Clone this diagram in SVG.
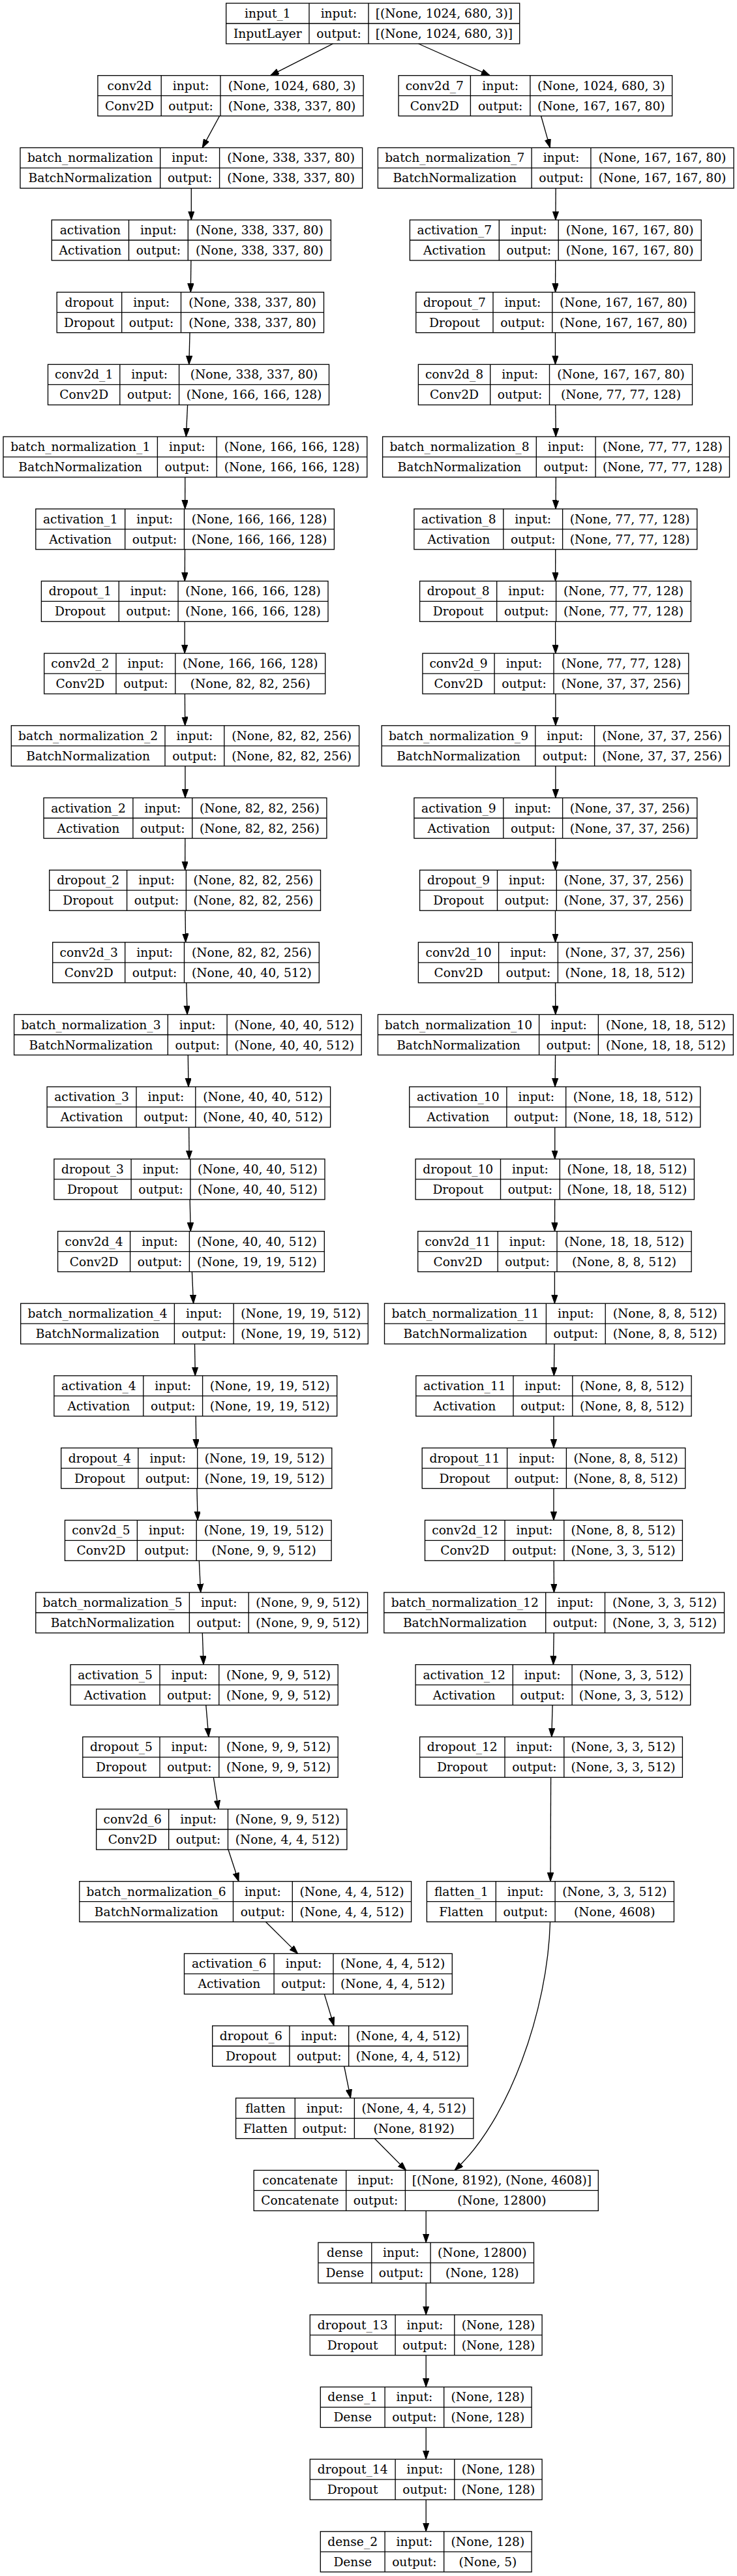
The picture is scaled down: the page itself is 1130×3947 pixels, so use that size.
<svg xmlns="http://www.w3.org/2000/svg" width="1130" height="3947" viewBox="0 0 1130 3947">
<defs>
<style>
.n rect{fill:#fff;stroke:#000;stroke-width:1.33}
.n path{fill:none;stroke:#000;stroke-width:1.33}
.n text{font-family:"DejaVu Serif","Liberation Serif",serif;font-size:18.67px;text-anchor:middle;fill:#000}
#edges path{fill:none;stroke:#000;stroke-width:1.33;marker-end:url(#arr)}
</style>
<marker id="arr" markerUnits="userSpaceOnUse" markerWidth="14" markerHeight="10" refX="13.3" refY="4.67" orient="auto" viewBox="0 0 14 10">
<path d="M0,0 L13.3,4.67 L0,9.33 Z" fill="#000" stroke="#000" stroke-width="1"/>
</marker>
</defs>
<rect width="1130" height="3947" fill="#fff"/>

<g id="edges">
<path d="M510.6,67 L414.6,115.7"/>
<path d="M641.5,67 L751.1,115.7"/>
<path d="M336.6,177.7 L310.2,226.4"/>
<path d="M293.3,288.4 L293.3,337"/>
<path d="M292.9,399 L292.3,447.7"/>
<path d="M291.05,509.7 L289.8,558.4"/>
<path d="M287.6,620.4 L285.3,669.1"/>
<path d="M283.8,731.1 L283.7,779.8"/>
<path d="M283.5,841.8 L283.3,890.4"/>
<path d="M283.2,952.4 L283.2,1001.1"/>
<path d="M283.4,1063.1 L283.7,1111.8"/>
<path d="M283.95,1173.8 L283.95,1222.5"/>
<path d="M283.85,1284.5 L283.7,1333.2"/>
<path d="M284,1395.2 L284.6,1443.8"/>
<path d="M285.8,1505.8 L287.1,1554.5"/>
<path d="M288.3,1616.5 L288.95,1665.2"/>
<path d="M289.65,1727.2 L290.15,1775.9"/>
<path d="M291.15,1837.9 L292.25,1886.6"/>
<path d="M294.4,1948.6 L296.6,1997.2"/>
<path d="M298.5,2059.2 L299.3,2107.9"/>
<path d="M300.2,2169.9 L300.85,2218.6"/>
<path d="M301.95,2280.6 L303.1,2329.3"/>
<path d="M305.3,2391.3 L307.7,2440"/>
<path d="M310.3,2502 L312.05,2550.6"/>
<path d="M315.8,2612.6 L319.9,2661.3"/>
<path d="M327.35,2723.3 L334.95,2772"/>
<path d="M350,2834 L366,2882.7"/>
<path d="M407.5,2944.7 L456.6,2993.4"/>
<path d="M497.3,3055.4 L512,3104"/>
<path d="M527.7,3166 L537.5,3214.7"/>
<path d="M574.4,3276.7 L622.6,3325.4"/>
<path d="M653.2,3387.4 L653.2,3436.1"/>
<path d="M653.2,3498.1 L653.2,3546.8"/>
<path d="M653.2,3608.8 L653.2,3657.4"/>
<path d="M653.2,3719.4 L653.2,3768.1"/>
<path d="M653.2,3830.1 L653.2,3878.8"/>
<path d="M829.6,177.7 L843.4,226.4"/>
<path d="M852.1,288.4 L851.9,337"/>
<path d="M851.7,399 L851.55,447.7"/>
<path d="M851.45,509.7 L851.45,558.4"/>
<path d="M851.75,620.4 L852.25,669.1"/>
<path d="M852.35,731.1 L852.05,779.8"/>
<path d="M851.75,841.8 L851.6,890.4"/>
<path d="M851.6,952.4 L851.75,1001.1"/>
<path d="M851.85,1063.1 L851.85,1111.8"/>
<path d="M851.85,1173.8 L851.85,1222.5"/>
<path d="M851.75,1284.5 L851.6,1333.2"/>
<path d="M851.5,1395.2 L851.5,1443.8"/>
<path d="M851.55,1505.8 L851.75,1554.5"/>
<path d="M851.55,1616.5 L851.05,1665.2"/>
<path d="M850.75,1727.2 L850.75,1775.9"/>
<path d="M850.65,1837.9 L850.5,1886.6"/>
<path d="M850.4,1948.6 L850.4,1997.2"/>
<path d="M850,2059.2 L849.35,2107.9"/>
<path d="M848.95,2169.9 L848.95,2218.6"/>
<path d="M848.95,2280.6 L848.95,2329.3"/>
<path d="M849.15,2391.3 L849.45,2440"/>
<path d="M849.15,2502 L848.4,2550.6"/>
<path d="M847.1,2612.6 L845.8,2661.3"/>
<path d="M844.6,2723.3 L844,2882.7"/>
<path d="M843.5,2944.7 C840,3080 780,3250 697,3325.4"/>
</g>

<g id="input_1" class="n" transform="translate(0 5)"><rect x="346.7" y="0" width="450" height="62"/><path d="M474,0v62M565,0v62M346.7,31H796.7"/><text x="410.35" y="22">input_1</text><text x="410.35" y="53">InputLayer</text><text x="519.5" y="22">input:</text><text x="519.5" y="53">output:</text><text x="680.85" y="22">[(None, 1024, 680, 3)]</text><text x="680.85" y="53">[(None, 1024, 680, 3)]</text></g>

<g id="conv2d" class="n" transform="translate(0 115.7)"><rect x="149.9" y="0" width="407.2" height="62"/><path d="M247.2,0v62M338,0v62M149.9,31H557.1"/><text x="198.55" y="22">conv2d</text><text x="198.55" y="53">Conv2D</text><text x="292.6" y="22">input:</text><text x="292.6" y="53">output:</text><text x="447.55" y="22">(None, 1024, 680, 3)</text><text x="447.55" y="53">(None, 338, 337, 80)</text></g>
<g id="conv2d_7" class="n" transform="translate(0 115.7)"><rect x="611.1" y="0" width="419.5" height="62"/><path d="M721.4,0v62M812.9,0v62M611.1,31H1030.6"/><text x="666.25" y="22">conv2d_7</text><text x="666.25" y="53">Conv2D</text><text x="767.15" y="22">input:</text><text x="767.15" y="53">output:</text><text x="921.75" y="22">(None, 1024, 680, 3)</text><text x="921.75" y="53">(None, 167, 167, 80)</text></g>

<g id="batch_normalization" class="n" transform="translate(0 226.4)"><rect x="31" y="0" width="524.6" height="62"/><path d="M245.7,0v62M336.6,0v62M31,31H555.6"/><text x="138.35" y="22">batch_normalization</text><text x="138.35" y="53">BatchNormalization</text><text x="291.15" y="22">input:</text><text x="291.15" y="53">output:</text><text x="446.1" y="22">(None, 338, 337, 80)</text><text x="446.1" y="53">(None, 338, 337, 80)</text></g>
<g id="batch_normalization_7" class="n" transform="translate(0 226.4)"><rect x="579.4" y="0" width="545.6" height="62"/><path d="M815.1,0v62M905.9,0v62M579.4,31H1125"/><text x="697.25" y="22">batch_normalization_7</text><text x="697.25" y="53">BatchNormalization</text><text x="860.5" y="22">input:</text><text x="860.5" y="53">output:</text><text x="1015.45" y="22">(None, 167, 167, 80)</text><text x="1015.45" y="53">(None, 167, 167, 80)</text></g>

<g id="activation" class="n" transform="translate(0 337)"><rect x="79.3" y="0" width="428.1" height="62"/><path d="M197.5,0v62M288.3,0v62M79.3,31H507.4"/><text x="138.4" y="22">activation</text><text x="138.4" y="53">Activation</text><text x="242.9" y="22">input:</text><text x="242.9" y="53">output:</text><text x="397.85" y="22">(None, 338, 337, 80)</text><text x="397.85" y="53">(None, 338, 337, 80)</text></g>
<g id="activation_7" class="n" transform="translate(0 337)"><rect x="628.4" y="0" width="446.8" height="62"/><path d="M765.3,0v62M856.2,0v62M628.4,31H1075.2"/><text x="696.85" y="22">activation_7</text><text x="696.85" y="53">Activation</text><text x="810.75" y="22">input:</text><text x="810.75" y="53">output:</text><text x="965.7" y="22">(None, 167, 167, 80)</text><text x="965.7" y="53">(None, 167, 167, 80)</text></g>

<g id="dropout" class="n" transform="translate(0 447.7)"><rect x="87.2" y="0" width="409.3" height="62"/><path d="M186.7,0v62M277.5,0v62M87.2,31H496.5"/><text x="136.95" y="22">dropout</text><text x="136.95" y="53">Dropout</text><text x="232.1" y="22">input:</text><text x="232.1" y="53">output:</text><text x="387" y="22">(None, 338, 337, 80)</text><text x="387" y="53">(None, 338, 337, 80)</text></g>
<g id="dropout_7" class="n" transform="translate(0 447.7)"><rect x="637.8" y="0" width="427.3" height="62"/><path d="M756,0v62M846.8,0v62M637.8,31H1065.1"/><text x="696.9" y="22">dropout_7</text><text x="696.9" y="53">Dropout</text><text x="801.4" y="22">input:</text><text x="801.4" y="53">output:</text><text x="955.95" y="22">(None, 167, 167, 80)</text><text x="955.95" y="53">(None, 167, 167, 80)</text></g>

<g id="conv2d_1" class="n" transform="translate(0 558.4)"><rect x="73.5" y="0" width="431" height="62"/><path d="M183.8,0v62M274.6,0v62M73.5,31H504.5"/><text x="128.65" y="22">conv2d_1</text><text x="128.65" y="53">Conv2D</text><text x="229.2" y="22">input:</text><text x="229.2" y="53">output:</text><text x="389.55" y="22">(None, 338, 337, 80)</text><text x="389.55" y="53">(None, 166, 166, 128)</text></g>
<g id="conv2d_8" class="n" transform="translate(0 558.4)"><rect x="641.4" y="0" width="420.1" height="62"/><path d="M751.7,0v62M842.5,0v62M641.4,31H1061.5"/><text x="696.55" y="22">conv2d_8</text><text x="696.55" y="53">Conv2D</text><text x="797.1" y="22">input:</text><text x="797.1" y="53">output:</text><text x="952" y="22">(None, 167, 167, 80)</text><text x="952" y="53">(None, 77, 77, 128)</text></g>

<g id="batch_normalization_1" class="n" transform="translate(0 669.1)"><rect x="5" y="0" width="557.8" height="62"/><path d="M241.4,0v62M332.2,0v62M5,31H562.8"/><text x="123.2" y="22">batch_normalization_1</text><text x="123.2" y="53">BatchNormalization</text><text x="286.8" y="22">input:</text><text x="286.8" y="53">output:</text><text x="447.5" y="22">(None, 166, 166, 128)</text><text x="447.5" y="53">(None, 166, 166, 128)</text></g>
<g id="batch_normalization_8" class="n" transform="translate(0 669.1)"><rect x="586.6" y="0" width="531.9" height="62"/><path d="M822.3,0v62M913.1,0v62M586.6,31H1118.5"/><text x="704.45" y="22">batch_normalization_8</text><text x="704.45" y="53">BatchNormalization</text><text x="867.7" y="22">input:</text><text x="867.7" y="53">output:</text><text x="1015.8" y="22">(None, 77, 77, 128)</text><text x="1015.8" y="53">(None, 77, 77, 128)</text></g>

<g id="activation_1" class="n" transform="translate(0 779.8)"><rect x="54.8" y="0" width="457.6" height="62"/><path d="M191.7,0v62M282.5,0v62M54.8,31H512.4"/><text x="123.25" y="22">activation_1</text><text x="123.25" y="53">Activation</text><text x="237.1" y="22">input:</text><text x="237.1" y="53">output:</text><text x="397.45" y="22">(None, 166, 166, 128)</text><text x="397.45" y="53">(None, 166, 166, 128)</text></g>
<g id="activation_8" class="n" transform="translate(0 779.8)"><rect x="634.9" y="0" width="433.9" height="62"/><path d="M771.8,0v62M862.6,0v62M634.9,31H1068.8"/><text x="703.35" y="22">activation_8</text><text x="703.35" y="53">Activation</text><text x="817.2" y="22">input:</text><text x="817.2" y="53">output:</text><text x="965.7" y="22">(None, 77, 77, 128)</text><text x="965.7" y="53">(None, 77, 77, 128)</text></g>

<g id="dropout_1" class="n" transform="translate(0 890.4)"><rect x="63.4" y="0" width="439.6" height="62"/><path d="M182.3,0v62M273.1,0v62M63.4,31H503"/><text x="122.85" y="22">dropout_1</text><text x="122.85" y="53">Dropout</text><text x="227.7" y="22">input:</text><text x="227.7" y="53">output:</text><text x="388.05" y="22">(None, 166, 166, 128)</text><text x="388.05" y="53">(None, 166, 166, 128)</text></g>
<g id="dropout_8" class="n" transform="translate(0 890.4)"><rect x="643.6" y="0" width="415.8" height="62"/><path d="M761.7,0v62M852.6,0v62M643.6,31H1059.4"/><text x="702.65" y="22">dropout_8</text><text x="702.65" y="53">Dropout</text><text x="807.15" y="22">input:</text><text x="807.15" y="53">output:</text><text x="956" y="22">(None, 77, 77, 128)</text><text x="956" y="53">(None, 77, 77, 128)</text></g>

<g id="conv2d_2" class="n" transform="translate(0 1001.1)"><rect x="67.7" y="0" width="431" height="62"/><path d="M178,0v62M268.8,0v62M67.7,31H498.7"/><text x="122.85" y="22">conv2d_2</text><text x="122.85" y="53">Conv2D</text><text x="223.4" y="22">input:</text><text x="223.4" y="53">output:</text><text x="383.75" y="22">(None, 166, 166, 128)</text><text x="383.75" y="53">(None, 82, 82, 256)</text></g>
<g id="conv2d_9" class="n" transform="translate(0 1001.1)"><rect x="647.9" y="0" width="407.9" height="62"/><path d="M758.1,0v62M849,0v62M647.9,31H1055.8"/><text x="703" y="22">conv2d_9</text><text x="703" y="53">Conv2D</text><text x="803.55" y="22">input:</text><text x="803.55" y="53">output:</text><text x="952.4" y="22">(None, 77, 77, 128)</text><text x="952.4" y="53">(None, 37, 37, 256)</text></g>

<g id="batch_normalization_2" class="n" transform="translate(0 1111.8)"><rect x="17.3" y="0" width="533.3" height="62"/><path d="M253,0v62M343.8,0v62M17.3,31H550.6"/><text x="135.15" y="22">batch_normalization_2</text><text x="135.15" y="53">BatchNormalization</text><text x="298.4" y="22">input:</text><text x="298.4" y="53">output:</text><text x="447.2" y="22">(None, 82, 82, 256)</text><text x="447.2" y="53">(None, 82, 82, 256)</text></g>
<g id="batch_normalization_9" class="n" transform="translate(0 1111.8)"><rect x="585.2" y="0" width="533.3" height="62"/><path d="M820.8,0v62M911.6,0v62M585.2,31H1118.5"/><text x="703" y="22">batch_normalization_9</text><text x="703" y="53">BatchNormalization</text><text x="866.2" y="22">input:</text><text x="866.2" y="53">output:</text><text x="1015.05" y="22">(None, 37, 37, 256)</text><text x="1015.05" y="53">(None, 37, 37, 256)</text></g>

<g id="activation_2" class="n" transform="translate(0 1222.5)"><rect x="67" y="0" width="433.9" height="62"/><path d="M203.9,0v62M294.8,0v62M67,31H500.9"/><text x="135.45" y="22">activation_2</text><text x="135.45" y="53">Activation</text><text x="249.35" y="22">input:</text><text x="249.35" y="53">output:</text><text x="397.85" y="22">(None, 82, 82, 256)</text><text x="397.85" y="53">(None, 82, 82, 256)</text></g>
<g id="activation_9" class="n" transform="translate(0 1222.5)"><rect x="634.9" y="0" width="433.9" height="62"/><path d="M771.8,0v62M862.6,0v62M634.9,31H1068.8"/><text x="703.35" y="22">activation_9</text><text x="703.35" y="53">Activation</text><text x="817.2" y="22">input:</text><text x="817.2" y="53">output:</text><text x="965.7" y="22">(None, 37, 37, 256)</text><text x="965.7" y="53">(None, 37, 37, 256)</text></g>

<g id="dropout_2" class="n" transform="translate(0 1333.2)"><rect x="75.7" y="0" width="415.8" height="62"/><path d="M194.6,0v62M285.4,0v62M75.7,31H491.5"/><text x="135.15" y="22">dropout_2</text><text x="135.15" y="53">Dropout</text><text x="240" y="22">input:</text><text x="240" y="53">output:</text><text x="388.45" y="22">(None, 82, 82, 256)</text><text x="388.45" y="53">(None, 82, 82, 256)</text></g>
<g id="dropout_9" class="n" transform="translate(0 1333.2)"><rect x="643.6" y="0" width="415.8" height="62"/><path d="M762.5,0v62M853.3,0v62M643.6,31H1059.4"/><text x="703.05" y="22">dropout_9</text><text x="703.05" y="53">Dropout</text><text x="807.9" y="22">input:</text><text x="807.9" y="53">output:</text><text x="956.35" y="22">(None, 37, 37, 256)</text><text x="956.35" y="53">(None, 37, 37, 256)</text></g>

<g id="conv2d_3" class="n" transform="translate(0 1443.8)"><rect x="80.7" y="0" width="408.6" height="62"/><path d="M191.7,0v62M282.5,0v62M80.7,31H489.3"/><text x="136.2" y="22">conv2d_3</text><text x="136.2" y="53">Conv2D</text><text x="237.1" y="22">input:</text><text x="237.1" y="53">output:</text><text x="385.9" y="22">(None, 82, 82, 256)</text><text x="385.9" y="53">(None, 40, 40, 512)</text></g>
<g id="conv2d_10" class="n" transform="translate(0 1443.8)"><rect x="641.4" y="0" width="420.1" height="62"/><path d="M764.6,0v62M855.4,0v62M641.4,31H1061.5"/><text x="703" y="22">conv2d_10</text><text x="703" y="53">Conv2D</text><text x="810" y="22">input:</text><text x="810" y="53">output:</text><text x="958.45" y="22">(None, 37, 37, 256)</text><text x="958.45" y="53">(None, 18, 18, 512)</text></g>

<g id="batch_normalization_3" class="n" transform="translate(0 1554.5)"><rect x="21.6" y="0" width="532.6" height="62"/><path d="M257.3,0v62M348.1,0v62M21.6,31H554.2"/><text x="139.45" y="22">batch_normalization_3</text><text x="139.45" y="53">BatchNormalization</text><text x="302.7" y="22">input:</text><text x="302.7" y="53">output:</text><text x="451.15" y="22">(None, 40, 40, 512)</text><text x="451.15" y="53">(None, 40, 40, 512)</text></g>
<g id="batch_normalization_10" class="n" transform="translate(0 1554.5)"><rect x="579.4" y="0" width="544.9" height="62"/><path d="M826.6,0v62M917.4,0v62M579.4,31H1124.3"/><text x="703" y="22">batch_normalization_10</text><text x="703" y="53">BatchNormalization</text><text x="872" y="22">input:</text><text x="872" y="53">output:</text><text x="1020.85" y="22">(None, 18, 18, 512)</text><text x="1020.85" y="53">(None, 18, 18, 512)</text></g>

<g id="activation_3" class="n" transform="translate(0 1665.2)"><rect x="72.1" y="0" width="434.5" height="62"/><path d="M209,0v62M299.8,0v62M72.1,31H506.6"/><text x="140.55" y="22">activation_3</text><text x="140.55" y="53">Activation</text><text x="254.4" y="22">input:</text><text x="254.4" y="53">output:</text><text x="403.2" y="22">(None, 40, 40, 512)</text><text x="403.2" y="53">(None, 40, 40, 512)</text></g>
<g id="activation_10" class="n" transform="translate(0 1665.2)"><rect x="627.7" y="0" width="446.1" height="62"/><path d="M776.9,0v62M867.7,0v62M627.7,31H1073.8"/><text x="702.3" y="22">activation_10</text><text x="702.3" y="53">Activation</text><text x="822.3" y="22">input:</text><text x="822.3" y="53">output:</text><text x="970.75" y="22">(None, 18, 18, 512)</text><text x="970.75" y="53">(None, 18, 18, 512)</text></g>

<g id="dropout_3" class="n" transform="translate(0 1775.9)"><rect x="82.9" y="0" width="415.1" height="62"/><path d="M201.1,0v62M291.9,0v62M82.9,31H498"/><text x="142" y="22">dropout_3</text><text x="142" y="53">Dropout</text><text x="246.5" y="22">input:</text><text x="246.5" y="53">output:</text><text x="394.95" y="22">(None, 40, 40, 512)</text><text x="394.95" y="53">(None, 40, 40, 512)</text></g>
<g id="dropout_10" class="n" transform="translate(0 1775.9)"><rect x="637.1" y="0" width="427.3" height="62"/><path d="M767.5,0v62M858.3,0v62M637.1,31H1064.4"/><text x="702.3" y="22">dropout_10</text><text x="702.3" y="53">Dropout</text><text x="812.9" y="22">input:</text><text x="812.9" y="53">output:</text><text x="961.35" y="22">(None, 18, 18, 512)</text><text x="961.35" y="53">(None, 18, 18, 512)</text></g>

<g id="conv2d_4" class="n" transform="translate(0 1886.6)"><rect x="88.6" y="0" width="408.7" height="62"/><path d="M199.6,0v62M290.4,0v62M88.6,31H497.3"/><text x="144.1" y="22">conv2d_4</text><text x="144.1" y="53">Conv2D</text><text x="245" y="22">input:</text><text x="245" y="53">output:</text><text x="393.85" y="22">(None, 40, 40, 512)</text><text x="393.85" y="53">(None, 19, 19, 512)</text></g>
<g id="conv2d_11" class="n" transform="translate(0 1886.6)"><rect x="640.7" y="0" width="419.4" height="62"/><path d="M763.2,0v62M854,0v62M640.7,31H1060.1"/><text x="701.95" y="22">conv2d_11</text><text x="701.95" y="53">Conv2D</text><text x="808.6" y="22">input:</text><text x="808.6" y="53">output:</text><text x="957.05" y="22">(None, 18, 18, 512)</text><text x="957.05" y="53">(None, 8, 8, 512)</text></g>

<g id="batch_normalization_4" class="n" transform="translate(0 1997.2)"><rect x="31.7" y="0" width="532.6" height="62"/><path d="M267.4,0v62M358.2,0v62M31.7,31H564.3"/><text x="149.55" y="22">batch_normalization_4</text><text x="149.55" y="53">BatchNormalization</text><text x="312.8" y="22">input:</text><text x="312.8" y="53">output:</text><text x="461.25" y="22">(None, 19, 19, 512)</text><text x="461.25" y="53">(None, 19, 19, 512)</text></g>
<g id="batch_normalization_11" class="n" transform="translate(0 1997.2)"><rect x="589.5" y="0" width="521.8" height="62"/><path d="M837.4,0v62M928.2,0v62M589.5,31H1111.3"/><text x="713.45" y="22">batch_normalization_11</text><text x="713.45" y="53">BatchNormalization</text><text x="882.8" y="22">input:</text><text x="882.8" y="53">output:</text><text x="1019.75" y="22">(None, 8, 8, 512)</text><text x="1019.75" y="53">(None, 8, 8, 512)</text></g>

<g id="activation_4" class="n" transform="translate(0 2107.9)"><rect x="82.9" y="0" width="433.8" height="62"/><path d="M219.8,0v62M310.6,0v62M82.9,31H516.7"/><text x="151.35" y="22">activation_4</text><text x="151.35" y="53">Activation</text><text x="265.2" y="22">input:</text><text x="265.2" y="53">output:</text><text x="413.65" y="22">(None, 19, 19, 512)</text><text x="413.65" y="53">(None, 19, 19, 512)</text></g>
<g id="activation_11" class="n" transform="translate(0 2107.9)"><rect x="637.8" y="0" width="422.3" height="62"/><path d="M787,0v62M877.8,0v62M637.8,31H1060.1"/><text x="712.4" y="22">activation_11</text><text x="712.4" y="53">Activation</text><text x="832.4" y="22">input:</text><text x="832.4" y="53">output:</text><text x="968.95" y="22">(None, 8, 8, 512)</text><text x="968.95" y="53">(None, 8, 8, 512)</text></g>

<g id="dropout_4" class="n" transform="translate(0 2218.6)"><rect x="93.7" y="0" width="415.1" height="62"/><path d="M211.9,0v62M302.7,0v62M93.7,31H508.8"/><text x="152.8" y="22">dropout_4</text><text x="152.8" y="53">Dropout</text><text x="257.3" y="22">input:</text><text x="257.3" y="53">output:</text><text x="405.75" y="22">(None, 19, 19, 512)</text><text x="405.75" y="53">(None, 19, 19, 512)</text></g>
<g id="dropout_11" class="n" transform="translate(0 2218.6)"><rect x="647.2" y="0" width="403.5" height="62"/><path d="M777.6,0v62M868.4,0v62M647.2,31H1050.7"/><text x="712.4" y="22">dropout_11</text><text x="712.4" y="53">Dropout</text><text x="823" y="22">input:</text><text x="823" y="53">output:</text><text x="959.55" y="22">(None, 8, 8, 512)</text><text x="959.55" y="53">(None, 8, 8, 512)</text></g>

<g id="conv2d_5" class="n" transform="translate(0 2329.3)"><rect x="99.5" y="0" width="408.6" height="62"/><path d="M210.4,0v62M301.2,0v62M99.5,31H508.1"/><text x="154.95" y="22">conv2d_5</text><text x="154.95" y="53">Conv2D</text><text x="255.8" y="22">input:</text><text x="255.8" y="53">output:</text><text x="404.65" y="22">(None, 19, 19, 512)</text><text x="404.65" y="53">(None, 9, 9, 512)</text></g>
<g id="conv2d_12" class="n" transform="translate(0 2329.3)"><rect x="651.5" y="0" width="394.9" height="62"/><path d="M774,0v62M864.8,0v62M651.5,31H1046.4"/><text x="712.75" y="22">conv2d_12</text><text x="712.75" y="53">Conv2D</text><text x="819.4" y="22">input:</text><text x="819.4" y="53">output:</text><text x="955.6" y="22">(None, 8, 8, 512)</text><text x="955.6" y="53">(None, 3, 3, 512)</text></g>

<g id="batch_normalization_5" class="n" transform="translate(0 2440)"><rect x="54.8" y="0" width="508.8" height="62"/><path d="M290.4,0v62M381.2,0v62M54.8,31H563.6"/><text x="172.6" y="22">batch_normalization_5</text><text x="172.6" y="53">BatchNormalization</text><text x="335.8" y="22">input:</text><text x="335.8" y="53">output:</text><text x="472.4" y="22">(None, 9, 9, 512)</text><text x="472.4" y="53">(None, 9, 9, 512)</text></g>
<g id="batch_normalization_12" class="n" transform="translate(0 2440)"><rect x="588.8" y="0" width="521.7" height="62"/><path d="M836.7,0v62M927.5,0v62M588.8,31H1110.5"/><text x="712.75" y="22">batch_normalization_12</text><text x="712.75" y="53">BatchNormalization</text><text x="882.1" y="22">input:</text><text x="882.1" y="53">output:</text><text x="1019" y="22">(None, 3, 3, 512)</text><text x="1019" y="53">(None, 3, 3, 512)</text></g>

<g id="activation_5" class="n" transform="translate(0 2550.6)"><rect x="108.1" y="0" width="410.1" height="62"/><path d="M245,0v62M335.8,0v62M108.1,31H518.2"/><text x="176.55" y="22">activation_5</text><text x="176.55" y="53">Activation</text><text x="290.4" y="22">input:</text><text x="290.4" y="53">output:</text><text x="427" y="22">(None, 9, 9, 512)</text><text x="427" y="53">(None, 9, 9, 512)</text></g>
<g id="activation_12" class="n" transform="translate(0 2550.6)"><rect x="637.1" y="0" width="421.6" height="62"/><path d="M786.3,0v62M877.1,0v62M637.1,31H1058.7"/><text x="711.7" y="22">activation_12</text><text x="711.7" y="53">Activation</text><text x="831.7" y="22">input:</text><text x="831.7" y="53">output:</text><text x="967.9" y="22">(None, 3, 3, 512)</text><text x="967.9" y="53">(None, 3, 3, 512)</text></g>

<g id="dropout_5" class="n" transform="translate(0 2661.3)"><rect x="126.8" y="0" width="391.4" height="62"/><path d="M245,0v62M335.8,0v62M126.8,31H518.2"/><text x="185.9" y="22">dropout_5</text><text x="185.9" y="53">Dropout</text><text x="290.4" y="22">input:</text><text x="290.4" y="53">output:</text><text x="427" y="22">(None, 9, 9, 512)</text><text x="427" y="53">(None, 9, 9, 512)</text></g>
<g id="dropout_12" class="n" transform="translate(0 2661.3)"><rect x="643.6" y="0" width="402.8" height="62"/><path d="M774,0v62M864.8,0v62M643.6,31H1046.4"/><text x="708.8" y="22">dropout_12</text><text x="708.8" y="53">Dropout</text><text x="819.4" y="22">input:</text><text x="819.4" y="53">output:</text><text x="955.6" y="22">(None, 3, 3, 512)</text><text x="955.6" y="53">(None, 3, 3, 512)</text></g>

<g id="conv2d_6" class="n" transform="translate(0 2772)"><rect x="147.7" y="0" width="384.2" height="62"/><path d="M258.7,0v62M349.5,0v62M147.7,31H531.9"/><text x="203.2" y="22">conv2d_6</text><text x="203.2" y="53">Conv2D</text><text x="304.1" y="22">input:</text><text x="304.1" y="53">output:</text><text x="440.7" y="22">(None, 9, 9, 512)</text><text x="440.7" y="53">(None, 4, 4, 512)</text></g>

<g id="batch_normalization_6" class="n" transform="translate(0 2882.7)"><rect x="121.8" y="0" width="508.8" height="62"/><path d="M357.5,0v62M448.3,0v62M121.8,31H630.6"/><text x="239.65" y="22">batch_normalization_6</text><text x="239.65" y="53">BatchNormalization</text><text x="402.9" y="22">input:</text><text x="402.9" y="53">output:</text><text x="539.45" y="22">(None, 4, 4, 512)</text><text x="539.45" y="53">(None, 4, 4, 512)</text></g>
<g id="flatten_1" class="n" transform="translate(0 2882.7)"><rect x="654.4" y="0" width="379" height="62"/><path d="M760.3,0v62M851.1,0v62M654.4,31H1033.4"/><text x="707.35" y="22">flatten_1</text><text x="707.35" y="53">Flatten</text><text x="805.7" y="22">input:</text><text x="805.7" y="53">output:</text><text x="942.25" y="22">(None, 3, 3, 512)</text><text x="942.25" y="53">(None, 4608)</text></g>

<g id="activation_6" class="n" transform="translate(0 2993.4)"><rect x="282.5" y="0" width="410.8" height="62"/><path d="M420.1,0v62M511,0v62M282.5,31H693.3"/><text x="351.3" y="22">activation_6</text><text x="351.3" y="53">Activation</text><text x="465.55" y="22">input:</text><text x="465.55" y="53">output:</text><text x="602.15" y="22">(None, 4, 4, 512)</text><text x="602.15" y="53">(None, 4, 4, 512)</text></g>

<g id="dropout_6" class="n" transform="translate(0 3104)"><rect x="325.7" y="0" width="391.4" height="62"/><path d="M443.9,0v62M534.7,0v62M325.7,31H717.1"/><text x="384.8" y="22">dropout_6</text><text x="384.8" y="53">Dropout</text><text x="489.3" y="22">input:</text><text x="489.3" y="53">output:</text><text x="625.9" y="22">(None, 4, 4, 512)</text><text x="625.9" y="53">(None, 4, 4, 512)</text></g>

<g id="flatten" class="n" transform="translate(0 3214.7)"><rect x="361.6" y="0" width="364.3" height="62"/><path d="M452.3,0v62M543.4,0v62M361.6,31H725.9"/><text x="406.95" y="22">flatten</text><text x="406.95" y="53">Flatten</text><text x="497.85" y="22">input:</text><text x="497.85" y="53">output:</text><text x="634.65" y="22">(None, 4, 4, 512)</text><text x="634.65" y="53">(None, 8192)</text></g>

<g id="concatenate" class="n" transform="translate(0 3325.4)"><rect x="389.2" y="0" width="528.1" height="62"/><path d="M530.7,0v62M621.4,0v62M389.2,31H917.3"/><text x="459.95" y="22">concatenate</text><text x="459.95" y="53">Concatenate</text><text x="576.05" y="22">input:</text><text x="576.05" y="53">output:</text><text x="769.35" y="22">[(None, 8192), (None, 4608)]</text><text x="769.35" y="53">(None, 12800)</text></g>

<g id="dense" class="n" transform="translate(0 3436.1)"><rect x="487.9" y="0" width="330.6" height="62"/><path d="M569.8,0v62M660.1,0v62M487.9,31H818.5"/><text x="528.85" y="22">dense</text><text x="528.85" y="53">Dense</text><text x="614.95" y="22">input:</text><text x="614.95" y="53">output:</text><text x="739.3" y="22">(None, 12800)</text><text x="739.3" y="53">(None, 128)</text></g>

<g id="dropout_13" class="n" transform="translate(0 3546.8)"><rect x="475.3" y="0" width="355.8" height="62"/><path d="M606.1,0v62M696.8,0v62M475.3,31H831.1"/><text x="540.7" y="22">dropout_13</text><text x="540.7" y="53">Dropout</text><text x="651.45" y="22">input:</text><text x="651.45" y="53">output:</text><text x="763.95" y="22">(None, 128)</text><text x="763.95" y="53">(None, 128)</text></g>

<g id="dense_1" class="n" transform="translate(0 3657.4)"><rect x="491.3" y="0" width="323.8" height="62"/><path d="M590.1,0v62M680.7,0v62M491.3,31H815.1"/><text x="540.7" y="22">dense_1</text><text x="540.7" y="53">Dense</text><text x="635.4" y="22">input:</text><text x="635.4" y="53">output:</text><text x="747.9" y="22">(None, 128)</text><text x="747.9" y="53">(None, 128)</text></g>

<g id="dropout_14" class="n" transform="translate(0 3768.1)"><rect x="475.3" y="0" width="355.8" height="62"/><path d="M606.1,0v62M696.8,0v62M475.3,31H831.1"/><text x="540.7" y="22">dropout_14</text><text x="540.7" y="53">Dropout</text><text x="651.45" y="22">input:</text><text x="651.45" y="53">output:</text><text x="763.95" y="22">(None, 128)</text><text x="763.95" y="53">(None, 128)</text></g>

<g id="dense_2" class="n" transform="translate(0 3878.8)"><rect x="491.3" y="0" width="323.8" height="62"/><path d="M590.1,0v62M680.7,0v62M491.3,31H815.1"/><text x="540.7" y="22">dense_2</text><text x="540.7" y="53">Dense</text><text x="635.4" y="22">input:</text><text x="635.4" y="53">output:</text><text x="747.9" y="22">(None, 128)</text><text x="747.9" y="53">(None, 5)</text></g>
</svg>
